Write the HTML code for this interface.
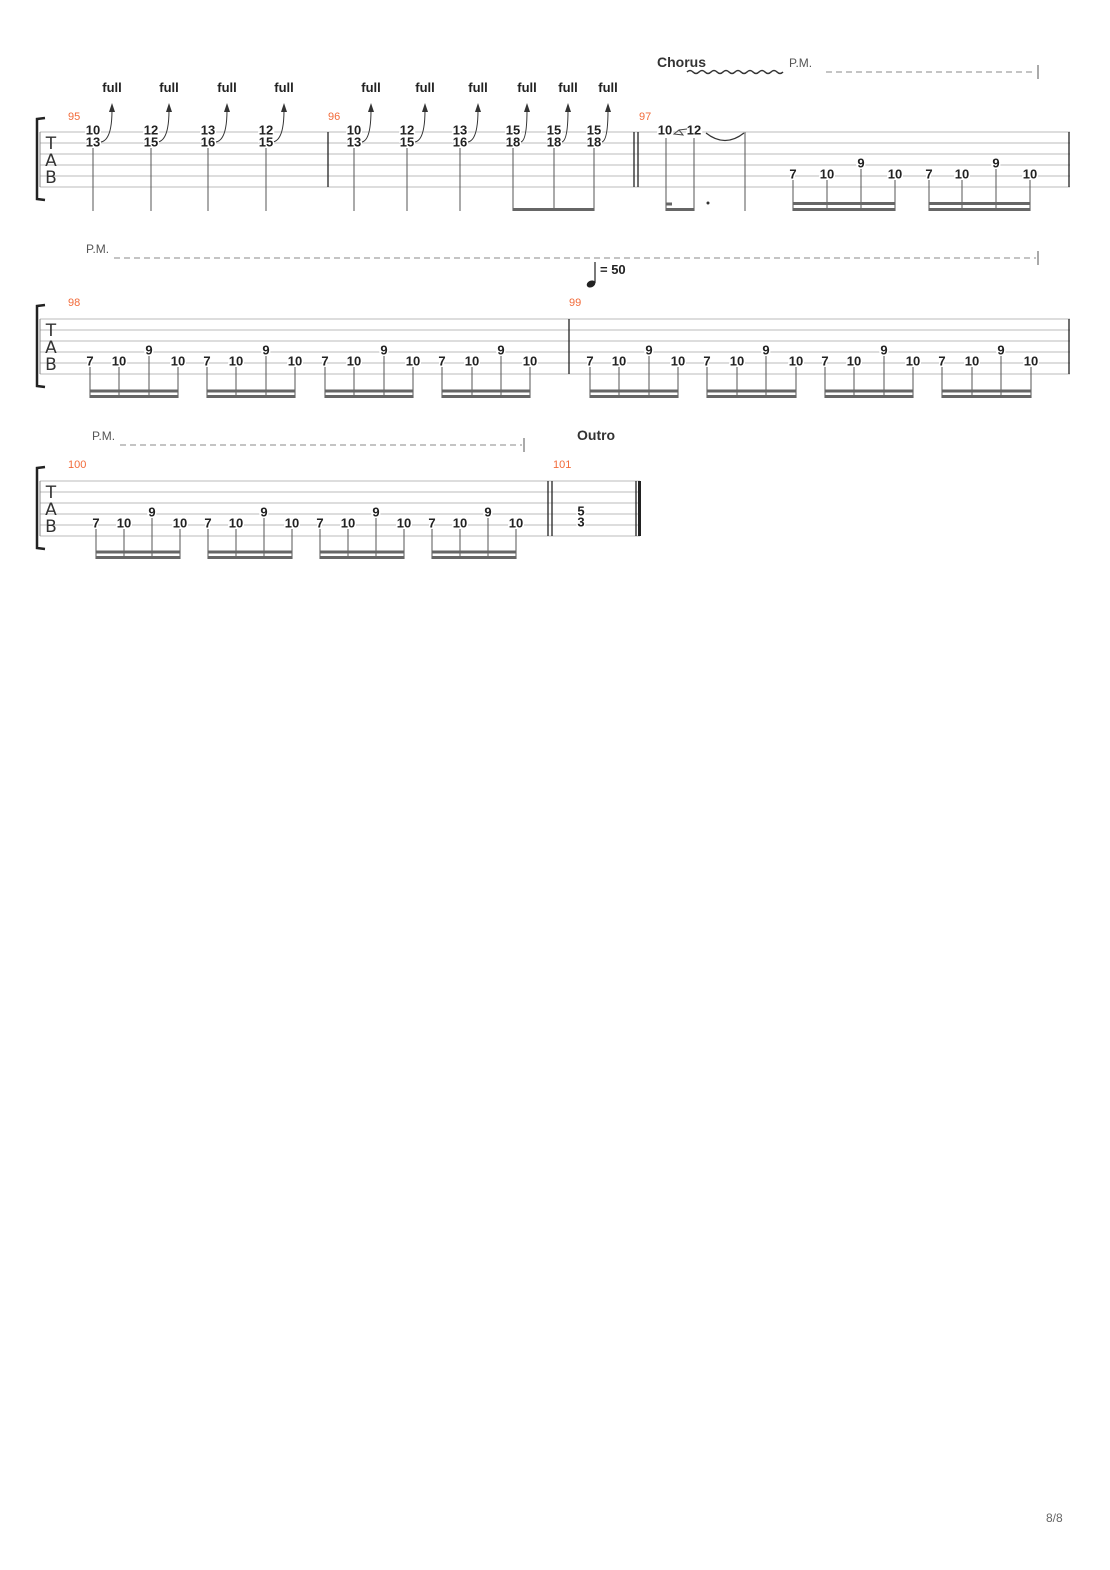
<!DOCTYPE html>
<html><head><meta charset="utf-8"><style>
html,body{margin:0;padding:0;background:#fff;}
svg{display:block;}
.n{font-family:"Liberation Sans",sans-serif;font-weight:bold;font-size:13px;fill:#222;text-anchor:middle;dominant-baseline:central;paint-order:stroke;stroke:#fff;stroke-width:3px;}
.mn{font-family:"Liberation Sans",sans-serif;font-size:11px;fill:#f26b3a;}
.f{font-family:"Liberation Sans",sans-serif;font-weight:bold;font-size:13px;fill:#222;text-anchor:middle;}
.pm{font-family:"Liberation Sans",sans-serif;font-size:12px;fill:#555;}
.sl line{stroke:#bbb;stroke-width:1;}
.st{stroke:#555;stroke-width:1;}
.bm{stroke:#666;stroke-width:3;}
.bar{stroke:#222;stroke-width:1.3;}
.tab{font-family:"DejaVu Sans",sans-serif;font-size:17px;fill:#333;text-anchor:middle;}
</style></head><body>
<svg width="1110" height="1570" viewBox="0 0 1110 1570" xmlns="http://www.w3.org/2000/svg">

<!-- ===== SYSTEM 1 ===== -->
<g class="sl">
<line x1="40" y1="132" x2="1070" y2="132"/><line x1="40" y1="143" x2="1070" y2="143"/><line x1="40" y1="154" x2="1070" y2="154"/><line x1="40" y1="165" x2="1070" y2="165"/><line x1="40" y1="176" x2="1070" y2="176"/><line x1="40" y1="187" x2="1070" y2="187"/>
</g>
<path d="M45,118 L37,119 L37,199 L45,200" fill="none" stroke="#222" stroke-width="2.5"/>
<line x1="40" y1="132" x2="40" y2="187" stroke="#888"/>
<text class="tab" x="51" y="149">T</text><text class="tab" x="51" y="166">A</text><text class="tab" x="51" y="183">B</text>
<text class="mn" x="68" y="120">95</text>
<text class="mn" x="328" y="120">96</text>
<text class="mn" x="639" y="120">97</text>
<line class="bar" x1="328" y1="132" x2="328" y2="187"/>
<line class="bar" x1="634" y1="132" x2="634" y2="187"/>
<line class="bar" x1="638" y1="132" x2="638" y2="187"/>
<line class="bar" x1="1069" y1="132" x2="1069" y2="187"/>

<line class="st" x1="93" y1="148" x2="93" y2="211"/>
<line class="st" x1="151" y1="148" x2="151" y2="211"/>
<line class="st" x1="208" y1="148" x2="208" y2="211"/>
<line class="st" x1="266" y1="148" x2="266" y2="211"/>
<line class="st" x1="354" y1="148" x2="354" y2="211"/>
<line class="st" x1="407" y1="148" x2="407" y2="211"/>
<line class="st" x1="460" y1="148" x2="460" y2="211"/>
<line class="st" x1="513" y1="148" x2="513" y2="211"/>
<line class="st" x1="554" y1="148" x2="554" y2="211"/>
<line class="st" x1="594" y1="148" x2="594" y2="211"/>
<line class="bm" x1="513" y1="209.5" x2="594" y2="209.5"/>

<g fill="none" stroke="#333" stroke-width="1">
<path d="M101,142 Q112,140 112,110"/>
<path d="M158,142 Q169,140 169,110"/>
<path d="M216,142 Q227,140 227,110"/>
<path d="M273,142 Q284,140 284,110"/>
<path d="M362,142 Q371,140 371,110"/>
<path d="M415,142 Q425,140 425,110"/>
<path d="M468,142 Q478,140 478,110"/>
<path d="M521,142 Q527,140 527,110"/>
<path d="M562,142 Q568,140 568,110"/>
<path d="M602,142 Q608,140 608,110"/>
</g>
<g fill="#333">
<path d="M109,112 L112,103 L115,112 Z"/>
<path d="M166,112 L169,103 L172,112 Z"/>
<path d="M224,112 L227,103 L230,112 Z"/>
<path d="M281,112 L284,103 L287,112 Z"/>
<path d="M368,112 L371,103 L374,112 Z"/>
<path d="M422,112 L425,103 L428,112 Z"/>
<path d="M475,112 L478,103 L481,112 Z"/>
<path d="M524,112 L527,103 L530,112 Z"/>
<path d="M565,112 L568,103 L571,112 Z"/>
<path d="M605,112 L608,103 L611,112 Z"/>
</g>
<text class="f" x="112" y="92">full</text><text class="f" x="169" y="92">full</text><text class="f" x="227" y="92">full</text><text class="f" x="284" y="92">full</text>
<text class="f" x="371" y="92">full</text><text class="f" x="425" y="92">full</text><text class="f" x="478" y="92">full</text><text class="f" x="527" y="92">full</text><text class="f" x="568" y="92">full</text><text class="f" x="608" y="92">full</text>

<text class="n" x="93" y="130">10</text><text class="n" x="93" y="142">13</text>
<text class="n" x="151" y="130">12</text><text class="n" x="151" y="142">15</text>
<text class="n" x="208" y="130">13</text><text class="n" x="208" y="142">16</text>
<text class="n" x="266" y="130">12</text><text class="n" x="266" y="142">15</text>
<text class="n" x="354" y="130">10</text><text class="n" x="354" y="142">13</text>
<text class="n" x="407" y="130">12</text><text class="n" x="407" y="142">15</text>
<text class="n" x="460" y="130">13</text><text class="n" x="460" y="142">16</text>
<text class="n" x="513" y="130">15</text><text class="n" x="513" y="142">18</text>
<text class="n" x="554" y="130">15</text><text class="n" x="554" y="142">18</text>
<text class="n" x="594" y="130">15</text><text class="n" x="594" y="142">18</text>

<line class="st" x1="666" y1="138" x2="666" y2="211"/>
<line class="st" x1="694" y1="138" x2="694" y2="211"/>
<line class="bm" x1="666" y1="209.5" x2="694" y2="209.5"/>
<line class="bm" x1="666" y1="204" x2="672" y2="204"/>
<circle cx="708" cy="203" r="1.5" fill="#333"/>
<line class="st" x1="745" y1="132" x2="745" y2="211"/>
<text class="n" x="665" y="130">10</text><text class="n" x="694" y="130">12</text>
<path d="M674,134 L679,130 L683,135 Z M679,130 L687,129" fill="none" stroke="#444" stroke-width="1"/>
<path d="M706,133 Q725,148 744,133" fill="none" stroke="#333" stroke-width="1.2"/>

<line class="st" x1="793" y1="180" x2="793" y2="211"/><line class="st" x1="827" y1="180" x2="827" y2="211"/><line class="st" x1="861" y1="169" x2="861" y2="211"/><line class="st" x1="895" y1="180" x2="895" y2="211"/>
<line class="bm" x1="793" y1="203.5" x2="895" y2="203.5"/><line class="bm" x1="793" y1="209.5" x2="895" y2="209.5"/>
<line class="st" x1="929" y1="180" x2="929" y2="211"/><line class="st" x1="962" y1="180" x2="962" y2="211"/><line class="st" x1="996" y1="169" x2="996" y2="211"/><line class="st" x1="1030" y1="180" x2="1030" y2="211"/>
<line class="bm" x1="929" y1="203.5" x2="1030" y2="203.5"/><line class="bm" x1="929" y1="209.5" x2="1030" y2="209.5"/>
<text class="n" x="793" y="174">7</text><text class="n" x="827" y="174">10</text><text class="n" x="861" y="163">9</text><text class="n" x="895" y="174">10</text>
<text class="n" x="929" y="174">7</text><text class="n" x="962" y="174">10</text><text class="n" x="996" y="163">9</text><text class="n" x="1030" y="174">10</text>

<text x="657" y="67" style="font-family:'Liberation Sans',sans-serif;font-weight:bold;font-size:14px;fill:#333;">Chorus</text>
<path d="M687,72 q3,-3 6,0 t6,0 t6,0 t6,0 t6,0 t6,0 t6,0 t6,0 t6,0 t6,0 t6,0 t6,0 t6,0 t6,0 t6,0 t6,0" fill="none" stroke="#333" stroke-width="1.5"/>
<text class="pm" x="789" y="67">P.M.</text>
<line x1="826" y1="72" x2="1036" y2="72" stroke="#888" stroke-dasharray="6,4"/>
<line x1="1038" y1="65" x2="1038" y2="79" stroke="#555"/>

<!-- ===== SYSTEM 2 ===== -->
<text class="pm" x="86" y="253">P.M.</text>
<line x1="114" y1="258" x2="1036" y2="258" stroke="#888" stroke-dasharray="6,4"/>
<line x1="1038" y1="251" x2="1038" y2="265" stroke="#555"/>
<ellipse cx="591" cy="284" rx="4.5" ry="3.3" transform="rotate(-25 591 284)" fill="#222"/>
<line x1="595" y1="283" x2="595" y2="262" stroke="#222" stroke-width="1.2"/>
<text x="600" y="274" style="font-family:'Liberation Sans',sans-serif;font-weight:bold;font-size:13px;fill:#222;">= 50</text>
<text class="mn" x="68" y="306">98</text>
<text class="mn" x="569" y="306">99</text>
<g class="sl">
<line x1="40" y1="319" x2="1070" y2="319"/><line x1="40" y1="330" x2="1070" y2="330"/><line x1="40" y1="341" x2="1070" y2="341"/><line x1="40" y1="352" x2="1070" y2="352"/><line x1="40" y1="363" x2="1070" y2="363"/><line x1="40" y1="374" x2="1070" y2="374"/>
</g>
<path d="M45,305 L37,306 L37,386 L45,387" fill="none" stroke="#222" stroke-width="2.5"/>
<line x1="40" y1="319" x2="40" y2="374" stroke="#888"/>
<text class="tab" x="51" y="336">T</text><text class="tab" x="51" y="353">A</text><text class="tab" x="51" y="370">B</text>
<line class="bar" x1="569" y1="319" x2="569" y2="374"/>
<line class="bar" x1="1069" y1="319" x2="1069" y2="374"/>

<line class="st" x1="90" y1="367" x2="90" y2="398"/><line class="st" x1="119" y1="367" x2="119" y2="398"/><line class="st" x1="149" y1="356" x2="149" y2="398"/><line class="st" x1="178" y1="367" x2="178" y2="398"/>
<line class="bm" x1="90" y1="391" x2="178" y2="391"/><line class="bm" x1="90" y1="396.5" x2="178" y2="396.5"/>
<line class="st" x1="207" y1="367" x2="207" y2="398"/><line class="st" x1="236" y1="367" x2="236" y2="398"/><line class="st" x1="266" y1="356" x2="266" y2="398"/><line class="st" x1="295" y1="367" x2="295" y2="398"/>
<line class="bm" x1="207" y1="391" x2="295" y2="391"/><line class="bm" x1="207" y1="396.5" x2="295" y2="396.5"/>
<line class="st" x1="325" y1="367" x2="325" y2="398"/><line class="st" x1="354" y1="367" x2="354" y2="398"/><line class="st" x1="384" y1="356" x2="384" y2="398"/><line class="st" x1="413" y1="367" x2="413" y2="398"/>
<line class="bm" x1="325" y1="391" x2="413" y2="391"/><line class="bm" x1="325" y1="396.5" x2="413" y2="396.5"/>
<line class="st" x1="442" y1="367" x2="442" y2="398"/><line class="st" x1="472" y1="367" x2="472" y2="398"/><line class="st" x1="501" y1="356" x2="501" y2="398"/><line class="st" x1="530" y1="367" x2="530" y2="398"/>
<line class="bm" x1="442" y1="391" x2="530" y2="391"/><line class="bm" x1="442" y1="396.5" x2="530" y2="396.5"/>
<line class="st" x1="590" y1="367" x2="590" y2="398"/><line class="st" x1="619" y1="367" x2="619" y2="398"/><line class="st" x1="649" y1="356" x2="649" y2="398"/><line class="st" x1="678" y1="367" x2="678" y2="398"/>
<line class="bm" x1="590" y1="391" x2="678" y2="391"/><line class="bm" x1="590" y1="396.5" x2="678" y2="396.5"/>
<line class="st" x1="707" y1="367" x2="707" y2="398"/><line class="st" x1="737" y1="367" x2="737" y2="398"/><line class="st" x1="766" y1="356" x2="766" y2="398"/><line class="st" x1="796" y1="367" x2="796" y2="398"/>
<line class="bm" x1="707" y1="391" x2="796" y2="391"/><line class="bm" x1="707" y1="396.5" x2="796" y2="396.5"/>
<line class="st" x1="825" y1="367" x2="825" y2="398"/><line class="st" x1="854" y1="367" x2="854" y2="398"/><line class="st" x1="884" y1="356" x2="884" y2="398"/><line class="st" x1="913" y1="367" x2="913" y2="398"/>
<line class="bm" x1="825" y1="391" x2="913" y2="391"/><line class="bm" x1="825" y1="396.5" x2="913" y2="396.5"/>
<line class="st" x1="942" y1="367" x2="942" y2="398"/><line class="st" x1="972" y1="367" x2="972" y2="398"/><line class="st" x1="1001" y1="356" x2="1001" y2="398"/><line class="st" x1="1031" y1="367" x2="1031" y2="398"/>
<line class="bm" x1="942" y1="391" x2="1031" y2="391"/><line class="bm" x1="942" y1="396.5" x2="1031" y2="396.5"/>
<text class="n" x="90" y="361">7</text><text class="n" x="119" y="361">10</text><text class="n" x="149" y="350">9</text><text class="n" x="178" y="361">10</text>
<text class="n" x="207" y="361">7</text><text class="n" x="236" y="361">10</text><text class="n" x="266" y="350">9</text><text class="n" x="295" y="361">10</text>
<text class="n" x="325" y="361">7</text><text class="n" x="354" y="361">10</text><text class="n" x="384" y="350">9</text><text class="n" x="413" y="361">10</text>
<text class="n" x="442" y="361">7</text><text class="n" x="472" y="361">10</text><text class="n" x="501" y="350">9</text><text class="n" x="530" y="361">10</text>
<text class="n" x="590" y="361">7</text><text class="n" x="619" y="361">10</text><text class="n" x="649" y="350">9</text><text class="n" x="678" y="361">10</text>
<text class="n" x="707" y="361">7</text><text class="n" x="737" y="361">10</text><text class="n" x="766" y="350">9</text><text class="n" x="796" y="361">10</text>
<text class="n" x="825" y="361">7</text><text class="n" x="854" y="361">10</text><text class="n" x="884" y="350">9</text><text class="n" x="913" y="361">10</text>
<text class="n" x="942" y="361">7</text><text class="n" x="972" y="361">10</text><text class="n" x="1001" y="350">9</text><text class="n" x="1031" y="361">10</text>

<!-- ===== SYSTEM 3 ===== -->
<text class="pm" x="92" y="440">P.M.</text>
<line x1="120" y1="445" x2="522" y2="445" stroke="#888" stroke-dasharray="6,4"/>
<line x1="524" y1="438" x2="524" y2="452" stroke="#555"/>
<text x="577" y="440" style="font-family:'Liberation Sans',sans-serif;font-weight:bold;font-size:14px;fill:#333;">Outro</text>
<text class="mn" x="68" y="468">100</text>
<text class="mn" x="553" y="468">101</text>
<g class="sl">
<line x1="40" y1="481" x2="640" y2="481"/><line x1="40" y1="492" x2="640" y2="492"/><line x1="40" y1="503" x2="640" y2="503"/><line x1="40" y1="514" x2="640" y2="514"/><line x1="40" y1="525" x2="640" y2="525"/><line x1="40" y1="536" x2="640" y2="536"/>
</g>
<path d="M45,467 L37,468 L37,548 L45,549" fill="none" stroke="#222" stroke-width="2.5"/>
<line x1="40" y1="481" x2="40" y2="536" stroke="#888"/>
<text class="tab" x="51" y="498">T</text><text class="tab" x="51" y="515">A</text><text class="tab" x="51" y="532">B</text>
<line class="bar" x1="548" y1="481" x2="548" y2="536"/>
<line class="bar" x1="552" y1="481" x2="552" y2="536"/>
<line class="bar" x1="636" y1="481" x2="636" y2="536"/>
<line x1="639.5" y1="481" x2="639.5" y2="536" stroke="#222" stroke-width="3"/>
<line class="st" x1="96" y1="529" x2="96" y2="559"/><line class="st" x1="124" y1="529" x2="124" y2="559"/><line class="st" x1="152" y1="518" x2="152" y2="559"/><line class="st" x1="180" y1="529" x2="180" y2="559"/>
<line class="bm" x1="96" y1="552" x2="180" y2="552"/><line class="bm" x1="96" y1="557.5" x2="180" y2="557.5"/>
<line class="st" x1="208" y1="529" x2="208" y2="559"/><line class="st" x1="236" y1="529" x2="236" y2="559"/><line class="st" x1="264" y1="518" x2="264" y2="559"/><line class="st" x1="292" y1="529" x2="292" y2="559"/>
<line class="bm" x1="208" y1="552" x2="292" y2="552"/><line class="bm" x1="208" y1="557.5" x2="292" y2="557.5"/>
<line class="st" x1="320" y1="529" x2="320" y2="559"/><line class="st" x1="348" y1="529" x2="348" y2="559"/><line class="st" x1="376" y1="518" x2="376" y2="559"/><line class="st" x1="404" y1="529" x2="404" y2="559"/>
<line class="bm" x1="320" y1="552" x2="404" y2="552"/><line class="bm" x1="320" y1="557.5" x2="404" y2="557.5"/>
<line class="st" x1="432" y1="529" x2="432" y2="559"/><line class="st" x1="460" y1="529" x2="460" y2="559"/><line class="st" x1="488" y1="518" x2="488" y2="559"/><line class="st" x1="516" y1="529" x2="516" y2="559"/>
<line class="bm" x1="432" y1="552" x2="516" y2="552"/><line class="bm" x1="432" y1="557.5" x2="516" y2="557.5"/>
<text class="n" x="96" y="523">7</text><text class="n" x="124" y="523">10</text><text class="n" x="152" y="512">9</text><text class="n" x="180" y="523">10</text>
<text class="n" x="208" y="523">7</text><text class="n" x="236" y="523">10</text><text class="n" x="264" y="512">9</text><text class="n" x="292" y="523">10</text>
<text class="n" x="320" y="523">7</text><text class="n" x="348" y="523">10</text><text class="n" x="376" y="512">9</text><text class="n" x="404" y="523">10</text>
<text class="n" x="432" y="523">7</text><text class="n" x="460" y="523">10</text><text class="n" x="488" y="512">9</text><text class="n" x="516" y="523">10</text>
<text class="n" x="581" y="511">5</text><text class="n" x="581" y="522">3</text>

<text x="1046" y="1522" style="font-family:'Liberation Sans',sans-serif;font-size:12px;fill:#666;">8/8</text>
</svg>
</body></html>
